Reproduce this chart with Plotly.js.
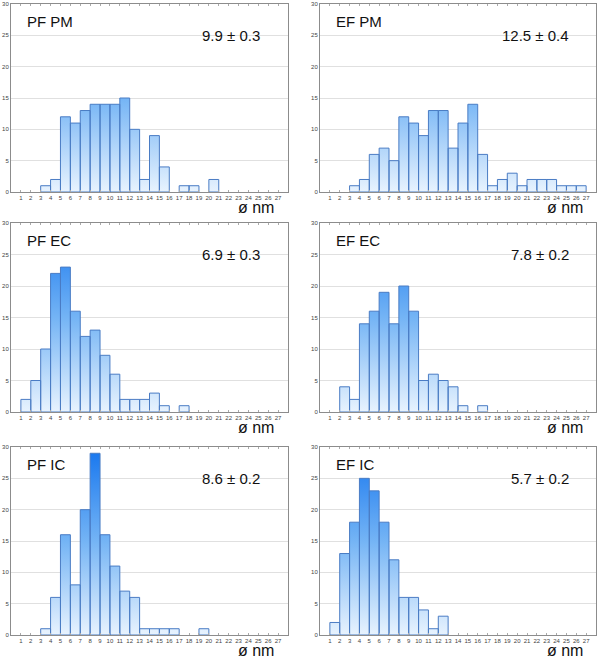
<!DOCTYPE html>
<html><head><meta charset="utf-8">
<script src="https://cdn.plot.ly/plotly-3.0.1.min.js"></script>
<style>html,body{margin:0;padding:0;background:#fff}</style>
</head><body><div id="chart" style="width:600px;height:658px"></div>
<script>
// ---- data ----
const bins = [1,2,3,4,5,6,7,8,9,10,11,12,13,14,15,16,17,18,19,20,21,22,23,24,25,26,27];
const tickLabels = ["1","2","3","4","5","6","7","8","9","10","11","12","13","14","15","16","17","18","19","20","21","22","23","24","25","26","27"];
const yTicks = [0,5,10,15,20,25,30];
const pfPM = [0,0,1,2,12,11,13,14,14,14,15,10,2,9,4,0,1,1,0,2,0,0,0,0,0,0,0];
const efPM = [0,0,1,2,6,7,5,12,11,9,13,13,7,11,14,6,1,2,3,1,2,2,2,1,1,1,0];
const pfEC = [2,5,10,22,23,16,12,13,9,6,2,2,2,3,1,0,1,0,0,0,0,0,0,0,0,0,0];
const efEC = [0,4,2,14,16,19,14,20,16,5,6,5,4,1,0,1,0,0,0,0,0,0,0,0,0,0,0];
const pfIC = [0,0,1,6,16,8,20,29,16,11,7,6,1,1,1,1,0,0,1,0,0,0,0,0,0,0,0];
const efIC = [2,13,18,25,23,18,12,6,6,4,1,3,0,0,0,0,0,0,0,0,0,0,0,0,0,0,0];
const panelNames = ["PF PM","EF PM","PF EC","EF EC","PF IC","EF IC"];
const panelMeans = ["9.9 ± 0.3","12.5 ± 0.4","6.9 ± 0.3","7.8 ± 0.2","8.6 ± 0.2","5.7 ± 0.2"];
const axisLabel = "ø nm";
const series = [pfPM, efPM, pfEC, efEC, pfIC, efIC];

// ---- layout geometry (pixels) ----
const W = 600, H = 658;
const colL = [11, 320], colR = [288, 596];
const rowT = [4, 223, 447], rowB = [192, 412, 635];
const px = v => v / W, py = v => 1 - v / H;
const FONT = "Liberation Sans, Arial, sans-serif";

const traces = [];
const layout = {
  width: W, height: H, margin: {l:0, r:0, t:0, b:0},
  paper_bgcolor: "#fff", plot_bgcolor: "#fff",
  showlegend: false, annotations: []
};

series.forEach((vals, i) => {
  const r = Math.floor(i / 2), c = i % 2;
  const xid = i === 0 ? "x" : "x" + (i + 1);
  const yid = i === 0 ? "y" : "y" + (i + 1);
  // each histogram bin [b, b+1] drawn as a closed rectangle in data space
  const xs = [], ys = [];
  bins.forEach((b, k) => {
    const v = vals[k];
    if (!v) return;
    xs.push(b, b, b + 1, b + 1, b, null);
    ys.push(0, v, v, 0, 0, null);
  });
  traces.push({
    type: "scatter", mode: "none", x: xs, y: ys, fill: "toself",
    fillgradient: {type: "vertical",
      colorscale: [[0, "#e8f3fe"], [0.5, "#74b4f5"], [1, "#1575ee"]], start: 0, stop: 30},
    hoverinfo: "skip", xaxis: xid, yaxis: yid
  });
  traces.push({
    type: "scatter", mode: "lines", x: xs, y: ys,
    line: {color: "#4a7cc4", width: 1},
    hoverinfo: "skip", xaxis: xid, yaxis: yid
  });
  const xa = {
    domain: [px(colL[c]), px(colR[c])], range: [0, 28], anchor: yid,
    tickvals: bins, ticktext: tickLabels, tickangle: 0,
    tickfont: {size: 6, color: "#444", family: FONT},
    showgrid: false, zeroline: false, showline: true, mirror: "ticks",
    linecolor: "#8c8c8c", linewidth: 1, ticks: "inside", ticklen: 2, tickcolor: "#aaa",
    fixedrange: true
  };
  const ya = {
    domain: [py(rowB[r]), py(rowT[r])], range: [0, 30], anchor: xid,
    tickvals: yTicks, tickfont: {size: 6, color: "#444", family: FONT},
    showgrid: true, gridcolor: "#e0e0e0", gridwidth: 1, zeroline: false,
    showline: true, mirror: true, linecolor: "#8c8c8c", linewidth: 1,
    ticks: "", fixedrange: true
  };
  layout["xaxis" + (i === 0 ? "" : i + 1)] = xa;
  layout["yaxis" + (i === 0 ? "" : i + 1)] = ya;

  layout.annotations.push({
    xref: "paper", yref: "paper", x: px(colL[c] + 14), y: py(rowT[r] + 17.5),
    xanchor: "left", yanchor: "middle", showarrow: false, text: panelNames[i],
    font: {size: 15, color: "#111", family: FONT}
  });
  layout.annotations.push({
    xref: "paper", yref: "paper", x: px(colL[c] + 251), y: py(rowT[r] + 31.5),
    xanchor: "right", yanchor: "middle", showarrow: false, text: panelMeans[i],
    font: {size: 15, color: "#111", family: FONT}
  });
  layout.annotations.push({
    xref: "paper", yref: "paper", x: px(colL[c] + 265), y: py(rowB[r] + 15.5),
    xanchor: "right", yanchor: "middle", showarrow: false, text: axisLabel,
    font: {size: 16, color: "#111", family: FONT}
  });
});

Plotly.newPlot("chart", traces, layout, {staticPlot: true, displayModeBar: false});
</script></body></html>
